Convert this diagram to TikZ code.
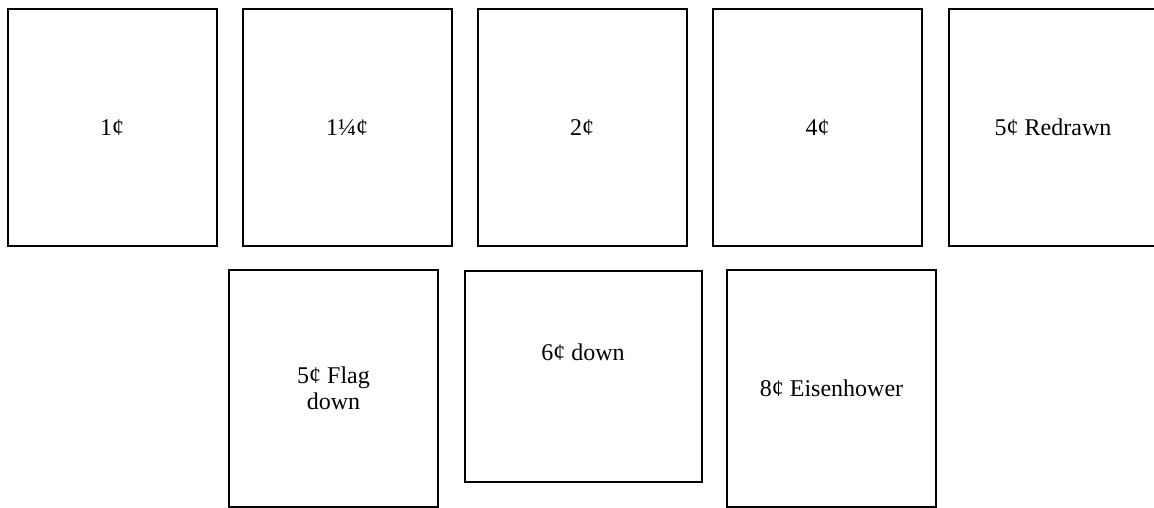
\documentclass[tikz,border=0pt]{standalone}
\usepackage{fontspec}
\setmainfont{Liberation Serif}
\begin{document}
\begin{tikzpicture}[x=1pt,y=-1pt,
  stamp/.style={draw=black, line width=2pt, minimum width=209pt, minimum height=237pt,
    inner sep=0pt, align=center, font=\fontsize{24}{26}\selectfont},
  widestamp/.style={stamp, minimum width=237pt, minimum height=211pt}]
\useasboundingbox (0,0) rectangle (1154,508);
\node[stamp] (s1) at (112,127.5) {1¢};
\node[stamp] (s2) at (347,127.5) {1¼¢};
\node[stamp] (s3) at (582,127.5) {2¢};
\node[stamp] (s4) at (817.5,127.5) {4¢};
\node[stamp] (s5) at (1053,127.5) {5¢ Redrawn};
\node[stamp] (s6) at (333.5,388.5) {5¢ Flag\\down};
\node[widestamp, label={[font=\fontsize{24}{26}\selectfont, yshift=24pt]center:6¢ down}] (s7) at (583,376) {};
\node[stamp] (s8) at (831.5,388.5) {8¢ Eisenhower};
\end{tikzpicture}
\end{document}
